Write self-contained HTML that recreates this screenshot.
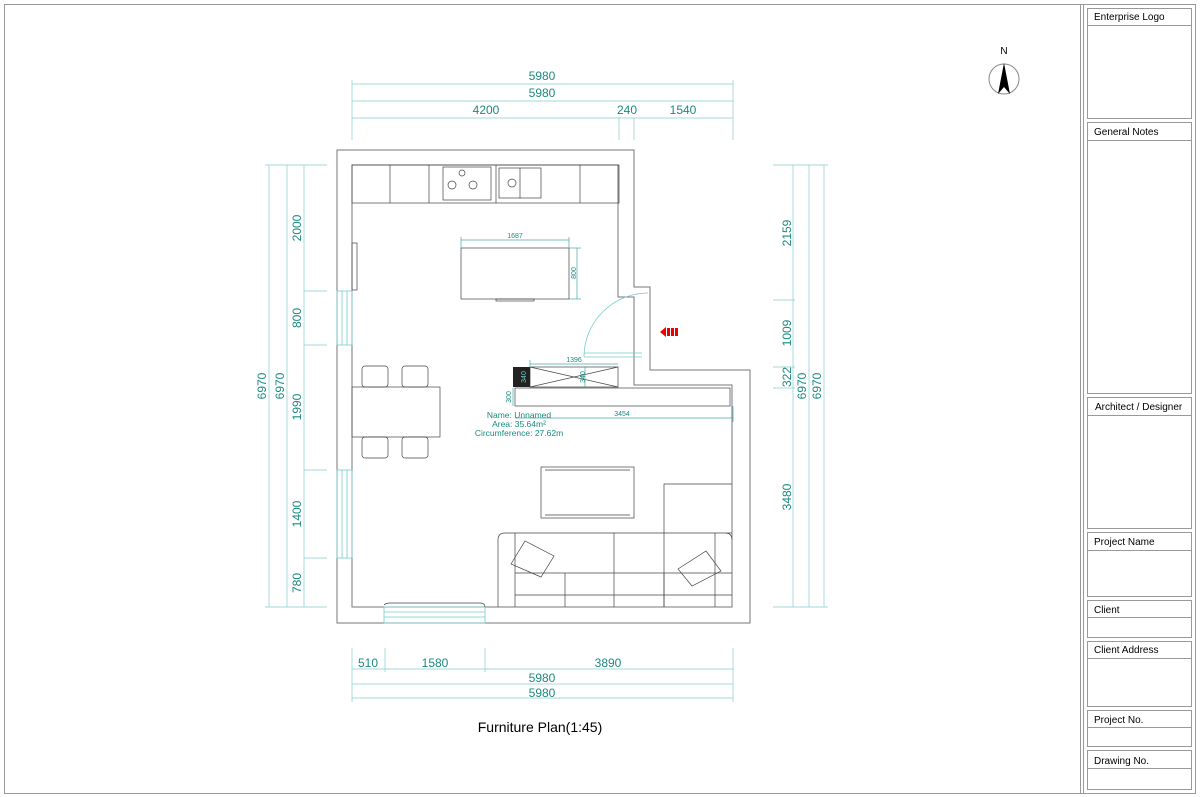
<!DOCTYPE html>
<html><head><meta charset="utf-8"><style>body{margin:0;background:#fff}svg{display:block}</style></head><body>
<svg width="1200" height="797" viewBox="0 0 1200 797" xmlns="http://www.w3.org/2000/svg" font-family="Liberation Sans, sans-serif">
<rect x="4.5" y="4.5" width="1191" height="789" fill="none" stroke="#999"/>
<line x1="1080.5" y1="4" x2="1080.5" y2="793" stroke="#999"/>
<line x1="1083.5" y1="4" x2="1083.5" y2="793" stroke="#999"/>
<g fill="none" stroke="#999">
<rect x="1087.5" y="8.5" width="104" height="110"/><line x1="1087" y1="25.5" x2="1192" y2="25.5"/>
<rect x="1087.5" y="122.5" width="104" height="271"/><line x1="1087" y1="140.5" x2="1192" y2="140.5"/>
<rect x="1087.5" y="397.5" width="104" height="131"/><line x1="1087" y1="415.5" x2="1192" y2="415.5"/>
<rect x="1087.5" y="532.5" width="104" height="64"/><line x1="1087" y1="550.5" x2="1192" y2="550.5"/>
<rect x="1087.5" y="600.5" width="104" height="37"/><line x1="1087" y1="617.5" x2="1192" y2="617.5"/>
<rect x="1087.5" y="641.5" width="104" height="65"/><line x1="1087" y1="658.5" x2="1192" y2="658.5"/>
<rect x="1087.5" y="710.5" width="104" height="36"/><line x1="1087" y1="727.5" x2="1192" y2="727.5"/>
<rect x="1087.5" y="750.5" width="104" height="39"/><line x1="1087" y1="768.5" x2="1192" y2="768.5"/>
</g>
<g font-size="10" fill="#000">
<text x="1094" y="20">Enterprise Logo</text><text x="1094" y="135">General Notes</text>
<text x="1095" y="410">Architect / Designer</text><text x="1094" y="545">Project Name</text>
<text x="1094" y="613">Client</text><text x="1094" y="653">Client Address</text>
<text x="1094" y="723">Project No.</text><text x="1094" y="764">Drawing No.</text>
</g>
<!-- north -->
<text x="1004" y="54" font-size="10" text-anchor="middle">N</text>
<circle cx="1004" cy="79" r="15" fill="none" stroke="#888"/>
<path d="M1004,63 L998,94 L1004,87 L1010,94 Z" fill="#000"/>
<!-- walls -->
<g fill="none" stroke="#777">
<path d="M337,150 H634 V287 H650 V370 H750 V623 H337 Z"/>
<path d="M352,165 H618 V297 H634 V385 H732 V607 H352 Z"/>
</g>
<!-- windows -->
<g stroke="#7cc" fill="none" stroke-width="0.8">
<rect x="337" y="291" width="15" height="54"/><line x1="342" y1="291" x2="342" y2="345"/><line x1="347" y1="291" x2="347" y2="345"/>
<rect x="337" y="470" width="15" height="88"/><line x1="342" y1="470" x2="342" y2="558"/><line x1="347" y1="470" x2="347" y2="558"/>
<rect x="384" y="607" width="101" height="16"/><line x1="384" y1="612" x2="485" y2="612"/><line x1="384" y1="617" x2="485" y2="617"/>
<path d="M584,357 A64,64 0 0 1 648,293"/><line x1="584" y1="357" x2="642" y2="357"/><line x1="584" y1="353" x2="642" y2="353"/>
</g>
<!-- furniture -->
<g fill="none" stroke="#444" stroke-width="0.7">
<rect x="352" y="165" width="267" height="38"/>
<line x1="390" y1="165" x2="390" y2="203"/><line x1="429" y1="165" x2="429" y2="203"/><line x1="496" y1="165" x2="496" y2="203"/><line x1="580" y1="165" x2="580" y2="203"/>
<rect x="443" y="167" width="48" height="33"/><circle cx="462" cy="173" r="3"/><circle cx="452" cy="185" r="4"/><circle cx="473" cy="185" r="4"/>
<rect x="499" y="168" width="42" height="30"/><line x1="520" y1="168" x2="520" y2="198"/><circle cx="512" cy="183" r="4"/>
<rect x="352" y="243" width="5" height="47"/>
<rect x="461" y="248" width="108" height="51"/><rect x="496" y="299" width="38" height="2"/>
<rect x="530" y="367" width="88" height="20"/><line x1="530" y1="367" x2="618" y2="387"/><line x1="530" y1="387" x2="618" y2="367"/>
<rect x="515" y="388" width="215" height="18"/>
<rect x="352" y="387" width="88" height="50"/>
<rect x="362" y="366" width="26" height="21" rx="3"/><rect x="402" y="366" width="26" height="21" rx="3"/>
<rect x="362" y="437" width="26" height="21" rx="3"/><rect x="402" y="437" width="26" height="21" rx="3"/>
<rect x="541" y="467" width="93" height="51"/>
<line x1="545" y1="470" x2="630" y2="470"/><line x1="545" y1="515" x2="630" y2="515"/>
<path d="M664,607 V484 H732"/>
<path d="M515,533 H732 M498,607 V540 Q498,533 505,533 H515 V607 M715,533 H725 Q732,533 732,540"/>
<line x1="515" y1="573" x2="732" y2="573"/><line x1="515" y1="595" x2="732" y2="595"/>
<line x1="565" y1="573" x2="565" y2="607"/><line x1="614" y1="533" x2="614" y2="607"/><line x1="664" y1="573" x2="664" y2="607"/><line x1="715" y1="533" x2="715" y2="607"/>
<path d="M511,564 L525,541 L554,556 L541,577 Z"/><path d="M678,569 L706,551 L721,571 L692,586 Z"/>
<path d="M384,605 Q386,603 390,603 H480 Q485,603 485,607"/>
</g>
<rect x="513" y="367" width="17" height="20" fill="#222"/>
<path d="M660,332 L666,327 V337 Z M667,328 h3 v8 h-3 Z M671,328 h3 v8 h-3 Z M675,328 h3 v8 h-3 Z" fill="#e00"/>
<!-- inner dims -->
<g stroke="#4aa" stroke-width="0.7" fill="none">
<line x1="461" y1="240" x2="569" y2="240"/><line x1="461" y1="237" x2="461" y2="248"/><line x1="569" y1="237" x2="569" y2="248"/>
<line x1="577" y1="248" x2="577" y2="299"/><line x1="569" y1="248" x2="581" y2="248"/><line x1="569" y1="299" x2="581" y2="299"/>
<line x1="530" y1="364" x2="618" y2="364"/><line x1="530" y1="360" x2="530" y2="367"/>
<line x1="585" y1="367" x2="585" y2="387"/>
<line x1="513" y1="388" x2="513" y2="406"/>
<line x1="515" y1="418" x2="733" y2="418"/><line x1="733" y1="406" x2="733" y2="422"/>
</g>
<g fill="#1a8a80" font-size="7">
<text x="515" y="238" text-anchor="middle">1687</text>
<text transform="translate(576,273) rotate(-90)" text-anchor="middle">800</text>
<text x="574" y="362" text-anchor="middle">1396</text>
<text transform="translate(585,377) rotate(-90)" text-anchor="middle">340</text>
<text transform="translate(526,377) rotate(-90)" text-anchor="middle" fill="#6cc">340</text>
<text transform="translate(511,397) rotate(-90)" text-anchor="middle">300</text>
<text x="622" y="416" text-anchor="middle">3454</text>
</g>
<g fill="#1a8a80" font-size="8.5" text-anchor="middle">
<text x="519" y="418">Name: Unnamed</text><text x="519" y="427">Area: 35.64m²</text><text x="519" y="436">Circumference: 27.62m</text>
</g>
<!-- outer dims -->
<g stroke="#8cc" stroke-width="0.7" fill="none">
<line x1="352" y1="84" x2="733" y2="84"/><line x1="352" y1="101" x2="733" y2="101"/><line x1="352" y1="118" x2="733" y2="118"/>
<line x1="352" y1="80" x2="352" y2="140"/><line x1="733" y1="80" x2="733" y2="140"/><line x1="619" y1="118" x2="619" y2="140"/><line x1="634" y1="118" x2="634" y2="140"/>
<line x1="269" y1="165" x2="269" y2="607"/><line x1="287" y1="165" x2="287" y2="607"/><line x1="304" y1="165" x2="304" y2="607"/>
<line x1="265" y1="165" x2="327" y2="165"/><line x1="265" y1="607" x2="327" y2="607"/>
<line x1="304" y1="291" x2="327" y2="291"/><line x1="304" y1="345" x2="327" y2="345"/><line x1="304" y1="470" x2="327" y2="470"/><line x1="304" y1="558" x2="327" y2="558"/>
<line x1="793" y1="165" x2="793" y2="607"/><line x1="809" y1="165" x2="809" y2="607"/><line x1="824" y1="165" x2="824" y2="607"/>
<line x1="773" y1="165" x2="828" y2="165"/><line x1="773" y1="607" x2="828" y2="607"/>
<line x1="773" y1="300" x2="795" y2="300"/><line x1="773" y1="367" x2="795" y2="367"/><line x1="773" y1="388" x2="795" y2="388"/>
<line x1="352" y1="669" x2="733" y2="669"/><line x1="352" y1="684" x2="733" y2="684"/><line x1="352" y1="698" x2="733" y2="698"/>
<line x1="352" y1="648" x2="352" y2="702"/><line x1="733" y1="648" x2="733" y2="702"/><line x1="385" y1="648" x2="385" y2="672"/><line x1="485" y1="648" x2="485" y2="672"/>
</g>
<g fill="#1a8a80" font-size="12" text-anchor="middle">
<text x="542" y="80">5980</text><text x="542" y="97">5980</text>
<text x="486" y="114">4200</text><text x="627" y="114">240</text><text x="683" y="114">1540</text>
<text x="368" y="667">510</text><text x="435" y="667">1580</text><text x="608" y="667">3890</text>
<text x="542" y="682">5980</text><text x="542" y="697">5980</text>
<text transform="translate(266,386) rotate(-90)">6970</text>
<text transform="translate(284,386) rotate(-90)">6970</text>
<text transform="translate(301,228) rotate(-90)">2000</text>
<text transform="translate(301,318) rotate(-90)">800</text>
<text transform="translate(301,407) rotate(-90)">1990</text>
<text transform="translate(301,514) rotate(-90)">1400</text>
<text transform="translate(301,583) rotate(-90)">780</text>
<text transform="translate(791,233) rotate(-90)">2159</text>
<text transform="translate(791,333) rotate(-90)">1009</text>
<text transform="translate(791,377) rotate(-90)">322</text>
<text transform="translate(806,386) rotate(-90)">6970</text>
<text transform="translate(821,386) rotate(-90)">6970</text>
<text transform="translate(791,497) rotate(-90)">3480</text>
</g>
<text x="540" y="732" font-size="14" text-anchor="middle" fill="#000">Furniture Plan(1:45)</text>
</svg>
</body></html>
